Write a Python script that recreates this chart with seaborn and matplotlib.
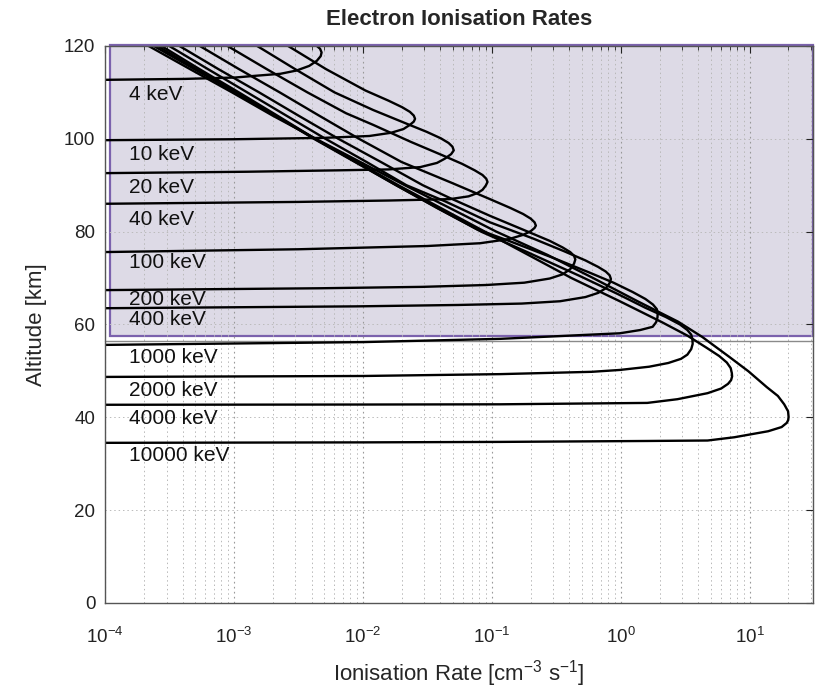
import matplotlib
matplotlib.use("Agg")
import matplotlib.pyplot as plt
import matplotlib.transforms as mtransforms
from matplotlib.patches import Rectangle
from matplotlib.ticker import LogLocator, FixedLocator
import numpy as np
import pandas as pd
import seaborn as sns

# ---------------- data (log10 of rate, altitude km) ----------------
energies = ["4 keV", "10 keV", "20 keV", "40 keV", "100 keV", "200 keV", "400 keV",
            "1000 keV", "2000 keV", "4000 keV", "10000 keV"]

logr_4 = [-4.0, -3.38, -2.99, -2.82, -2.64, -2.515, -2.416, -2.357, -2.327, -2.32, -2.332, -2.357]
alt_4 = [112.7, 112.9, 113.2, 113.6, 114.0, 114.7, 115.7, 116.8, 117.8, 118.6, 119.4, 120.0]

logr_10 = [-4.0, -3.0, -2.3, -1.95, -1.78, -1.685, -1.635, -1.605, -1.595,
           -1.605, -1.635, -1.695, -1.80, -1.98, -2.285, -2.58]
alt_10 = [99.7, 99.9, 100.2, 100.6, 101.3, 102.1, 103.0, 103.7, 104.3,
          105.0, 105.8, 106.8, 108.2, 110.4, 115.0, 120.0]

logr_20 = [-4.0, -2.9, -2.2, -1.8, -1.555, -1.425, -1.365, -1.315, -1.295,
           -1.305, -1.335, -1.395, -1.505, -1.665, -1.92, -2.22, -2.525, -2.82]
alt_20 = [92.6, 92.9, 93.2, 93.4, 93.9, 94.8, 95.7, 96.7, 97.5,
          98.3, 99.1, 100.1, 101.5, 103.3, 106.2, 110.0, 115.0, 120.0]

logr_40 = [-4.0, -2.5, -1.8, -1.325, -1.18, -1.112, -1.072, -1.047, -1.033,
           -1.043, -1.072, -1.132, -1.23, -1.387, -1.625, -1.92, -2.13, -2.43, -2.745, -3.05]
alt_40 = [86.0, 86.4, 86.7, 87.0, 87.6, 88.3, 89.0, 89.9, 90.7,
          91.4, 92.2, 93.2, 94.6, 96.5, 99.3, 103.0, 105.5, 110.0, 115.0, 120.0]

logr_100 = [-4.0, -2.5, -1.5, -1.09, -0.866, -0.757, -0.698, -0.668, -0.658,
            -0.668, -0.698, -0.757, -0.856, -1.014, -1.31, -1.70, -2.03, -2.34, -2.645, -2.96, -3.265]
alt_100 = [75.6, 76.2, 76.9, 77.5, 78.4, 79.3, 80.1, 80.8, 81.3,
           82.0, 82.8, 83.8, 85.1, 87.0, 90.5, 95.0, 100.0, 105.0, 110.0, 115.0, 120.0]

logr_200 = [-4.0, -2.33, -1.54, -1.045, -0.748, -0.55, -0.451, -0.392, -0.362, -0.352,
            -0.362, -0.392, -0.451, -0.55, -0.738, -1.014, -1.33, -1.535, -1.86, -2.19,
            -2.50, -2.805, -3.12, -3.423]
alt_200 = [67.4, 67.8, 68.1, 68.5, 69.0, 69.9, 70.8, 71.9, 73.1, 74.0,
           74.8, 75.6, 76.6, 78.0, 80.2, 83.4, 87.3, 90.0, 95.0, 100.0,
           105.0, 110.0, 115.0, 120.0]

logr_400 = [-4.0, -2.05, -1.26, -0.768, -0.471, -0.274, -0.175, -0.116, -0.086, -0.076,
            -0.086, -0.116, -0.175, -0.274, -0.441, -0.678, -1.014, -1.36, -1.662, -1.971,
            -2.29, -2.594, -2.897, -3.201, -3.502]
alt_400 = [63.5, 63.9, 64.2, 64.5, 65.0, 65.9, 66.8, 67.8, 68.9, 69.8,
           70.6, 71.4, 72.4, 73.8, 75.8, 78.5, 82.0, 86.5, 90.0, 95.0,
           100.0, 105.0, 110.0, 115.0, 120.0]

logr_1000 = [-4.0, -2.0, -0.935, -0.007, 0.151, 0.248, 0.275, 0.285, 0.287,
             0.280, 0.250, 0.191, 0.092, -0.056, -0.244, -0.520, -0.866, -1.113, -1.419,
             -1.742, -2.056, -2.37, -2.664, -2.962, -3.266, -3.562]
alt_1000 = [55.6, 56.2, 56.9, 58.1, 58.8, 59.5, 60.5, 61.5, 62.4,
            63.3, 64.3, 65.5, 67.0, 69.0, 71.2, 74.3, 78.0, 80.5, 85.0,
            90.0, 95.0, 100.0, 105.0, 110.0, 115.0, 120.0]

logr_2000 = [-4.0, -2.0, -0.935, -0.224, -0.007, 0.221, 0.369, 0.468, 0.517, 0.547, 0.558, 0.556,
             0.547, 0.517, 0.459, 0.350, 0.191, -0.026, -0.322, -0.718, -1.083, -1.414,
             -1.742, -2.061, -2.38, -2.679, -2.982, -3.291, -3.592]
alt_2000 = [48.7, 48.9, 49.3, 49.8, 50.2, 50.9, 51.7, 52.6, 53.5, 54.7, 55.8, 56.8,
            57.8, 58.8, 60.0, 61.6, 63.6, 66.6, 70.5, 75.5, 80.0, 85.0,
            90.0, 95.0, 100.0, 105.0, 110.0, 115.0, 120.0]

logr_4000 = [-4.0, -2.0, -0.935, 0.206, 0.440, 0.674, 0.779, 0.832, 0.856, 0.864, 0.862,
             0.853, 0.823, 0.764, 0.665, 0.517, 0.319, -0.007, -0.382, -0.718, -1.054,
             -1.39, -1.725, -2.046, -2.372, -2.678, -2.99, -3.307, -3.622]
alt_4000 = [42.7, 42.75, 42.8, 43.1, 43.9, 45.2, 46.2, 47.2, 48.0, 48.8, 49.5,
            50.6, 51.8, 53.2, 55.0, 57.6, 60.5, 65.0, 70.0, 75.0, 80.0,
            85.0, 90.0, 95.0, 100.0, 105.0, 110.0, 115.0, 120.0]

logr_10000 = [-4.0, -2.0, -0.935, 0.210, 0.674, 0.881, 1.144, 1.248, 1.288, 1.299, 1.302,
              1.298, 1.268, 1.219, 1.133, 0.991, 0.843, 0.633, 0.445, 0.131, -0.214,
              -0.569, -0.965, -1.32, -1.675, -2.02, -2.365, -2.70, -3.015, -3.34, -3.662]
alt_10000 = [34.5, 34.6, 34.7, 34.9, 35.0, 35.7, 37.0, 37.9, 38.8, 39.4, 40.1,
             41.3, 42.8, 44.6, 46.5, 49.9, 53.0, 57.3, 60.6, 65.0, 70.0,
             75.0, 80.0, 85.0, 90.0, 95.0, 100.0, 105.0, 110.0, 115.0, 120.0]

curve_logr = [logr_4, logr_10, logr_20, logr_40, logr_100, logr_200, logr_400,
              logr_1000, logr_2000, logr_4000, logr_10000]
curve_alt = [alt_4, alt_10, alt_20, alt_40, alt_100, alt_200, alt_400,
             alt_1000, alt_2000, alt_4000, alt_10000]

label_alts = [109.6, 96.7, 89.5, 82.7, 73.4, 65.3, 61.0, 52.9, 45.7, 39.8, 31.7]

x_ticks = [1e-4, 1e-3, 1e-2, 1e-1, 1e0, 1e1]
y_ticks = [0, 20, 40, 60, 80, 100, 120]

# ---------------- build table ----------------
rows = []
for name, lr, al in zip(energies, curve_logr, curve_alt):
    for i, (a, b) in enumerate(zip(lr, al)):
        rows.append({"energy": name, "order": i, "rate": 10.0 ** a, "alt": b})
df = pd.DataFrame(rows)

# ---------------- style ----------------
sns.set_style("white")
plt.rcParams["font.family"] = ["Liberation Sans", "DejaVu Sans"]
plt.rcParams["mathtext.fontset"] = "custom"
plt.rcParams["mathtext.rm"] = "Liberation Sans"
plt.rcParams["mathtext.it"] = "Liberation Sans:italic"
plt.rcParams["mathtext.bf"] = "Liberation Sans:bold"

fig = plt.figure(figsize=(8.17, 6.93), dpi=100)
ax = fig.add_axes([0.1285, 0.1299, 0.8666, 0.8038])

ax.set_xscale("log")
ax.set_xlim(1e-4, 31)
ax.set_ylim(0, 120)

# shaded region
trans = mtransforms.blended_transform_factory(ax.transAxes, ax.transData)
ax.add_patch(Rectangle((0.0075, 57.5), 0.9925, 62.7, transform=trans,
                       facecolor="#dddae6", edgecolor="#7b62ad", lw=1.6,
                       zorder=0.5, clip_on=False))
ax.plot([0.0, 1.0], [56.4, 56.4], transform=trans, color="#8a8a8a", lw=1.0,
        zorder=0.6, clip_on=False)

# grid
ax.xaxis.set_major_locator(FixedLocator(x_ticks))
ax.xaxis.set_minor_locator(LogLocator(base=10, subs=np.arange(2, 10)))
ax.yaxis.set_major_locator(FixedLocator(y_ticks))
ax.grid(which="major", axis="x", linestyle=(0, (1.5, 3)), color="#999999", lw=0.8, zorder=0.7)
ax.grid(which="major", axis="y", linestyle=(0, (1.5, 3)), color="#bbbbbb", lw=0.7, zorder=0.7)
ax.grid(which="minor", axis="x", linestyle=(0, (1.5, 3)), color="#b8b8b8", lw=0.7, zorder=0.7)

sns.lineplot(data=df, x="rate", y="alt", units="energy", estimator=None, sort=False,
             color="black", lw=1.7, ax=ax, legend=False, zorder=2)

for name, a in zip(energies, label_alts):
    ax.text(1.53e-4, a, name, fontsize=15, va="center", ha="left", color="#111111", zorder=3)

ax.set_title("Electron Ionisation Rates", fontsize=16, fontweight="bold", pad=15)
ax.set_xlabel("Ionisation Rate [cm$^{-3}$ s$^{-1}$]", fontsize=16, labelpad=8)
ax.set_ylabel("Altitude [km]", fontsize=16, labelpad=12)

ax.tick_params(which="both", direction="in", top=True, right=True,
               colors="#222222")
ax.tick_params(axis="y", which="major", labelsize=13.5, pad=7)
ax.tick_params(axis="x", which="major", labelsize=13.5, pad=17)
ax.tick_params(which="major", length=5)
ax.tick_params(which="minor", length=3)
for s in ax.spines.values():
    s.set_color("#555555")
    s.set_linewidth(1.0)

fig.savefig("out.png", dpi=100)
